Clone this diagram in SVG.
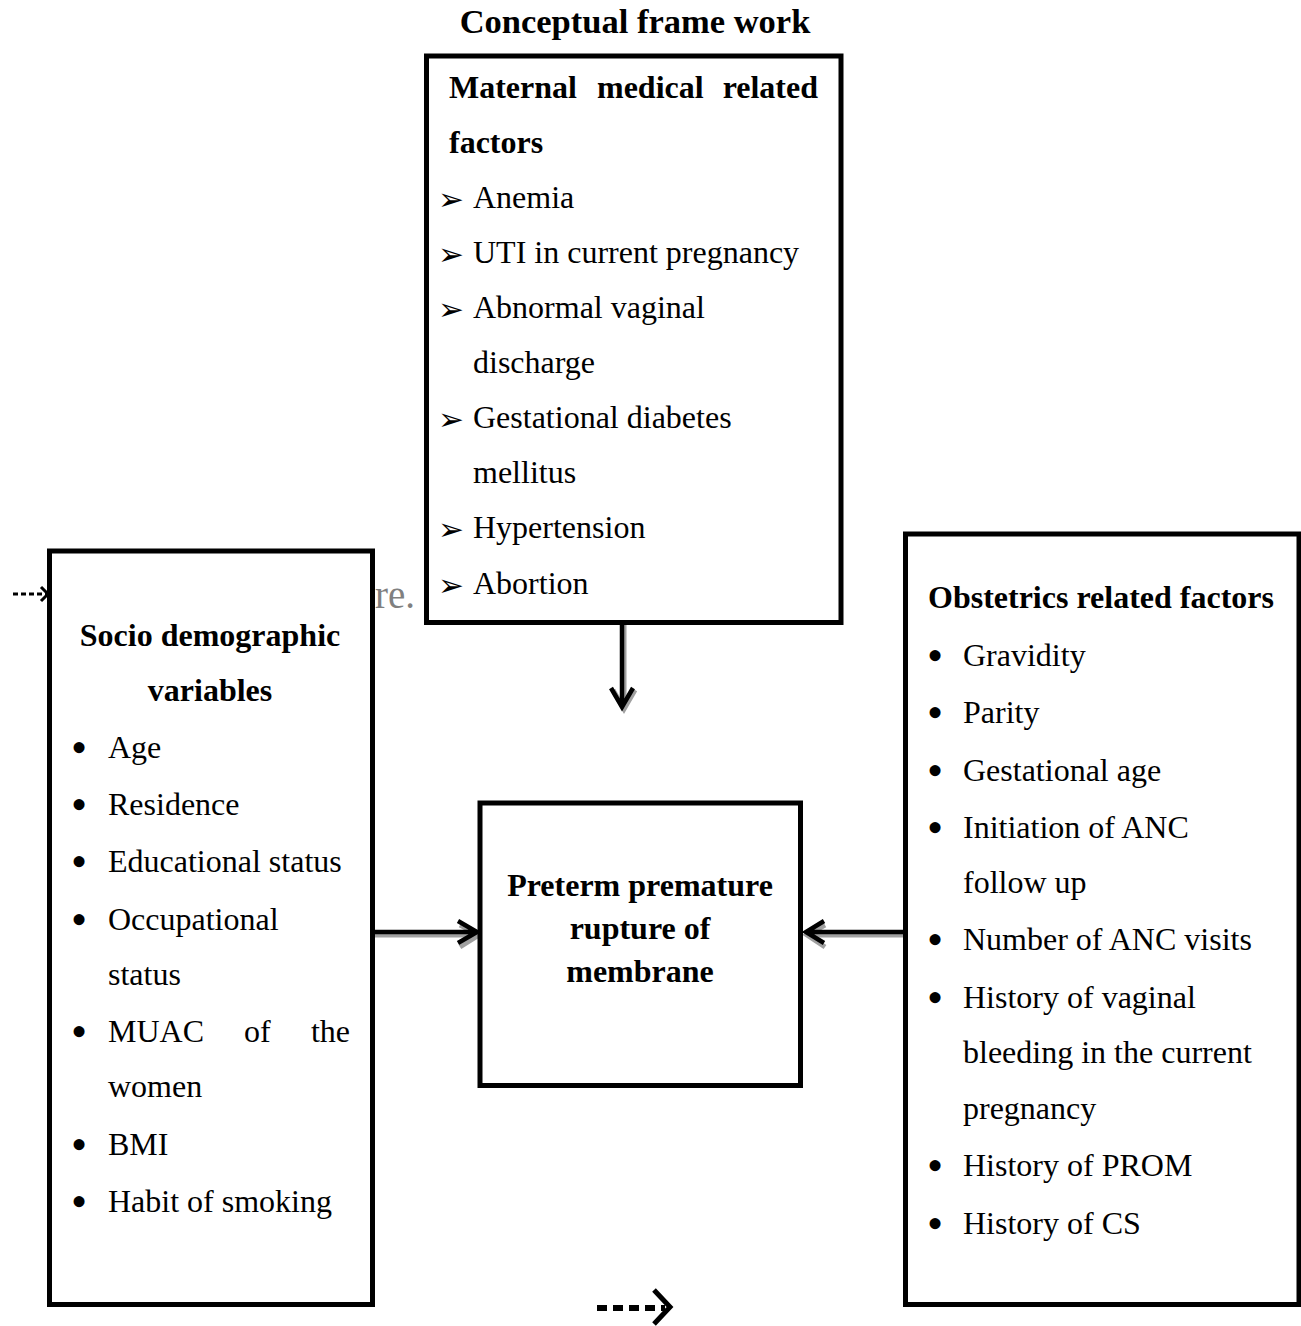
<svg xmlns="http://www.w3.org/2000/svg" width="1301" height="1326" viewBox="0 0 1301 1326">
<style>
.t{font-family:"Liberation Serif","Times New Roman",serif;font-size:32px;fill:#000}
.b{font-weight:bold}
.box{fill:#fff;stroke:#000;stroke-width:5}
.sh{fill:none;stroke:#a0a0a0;stroke-width:5}
.ln{fill:none;stroke:#000;stroke-width:4.5}
.blt{font-family:"DejaVu Sans",sans-serif;font-size:31px;fill:#000}
.dot{font-family:"Liberation Serif",serif;font-size:46px;fill:#000}
</style>
<rect width="1301" height="1326" fill="#fff"/>
<text class="t b" x="635" y="33" text-anchor="middle" style="font-size:34.5px">Conceptual frame work</text>

<g id="connectors">
  <path class="sh" d="M624 625V707M613 690L624 709L635 690"/>
  <path class="ln" d="M622 622V706M611 688L622 707L633 688"/>
  <path class="sh" d="M374 935H478M460 925L479 935L460 947"/>
  <path class="ln" d="M374 932H477M458 921L477 932L458 943"/>
  <path class="sh" d="M905 935H807M825 925L807 935L825 947"/>
  <path class="ln" d="M905 932H806M824 921L806 932L824 943"/>
  <path class="ln" d="M597 1308H665" stroke-dasharray="10 6" style="stroke-width:6"/>
  <path class="ln" d="M654 1290L670 1307L654 1324" style="stroke-width:5"/>
  <path class="ln" d="M13 594H46" stroke-dasharray="5 3" style="stroke-width:3"/>
  <path class="ln" d="M41 587L48 594L41 601" style="stroke-width:3"/>
</g>

<text x="375" y="608" style="font-family:'Liberation Serif',serif;font-size:39px;fill:#808080">re.</text>

<g id="maternal">
  <rect class="box" x="426.5" y="56" width="414.5" height="566.5"/>
  <text class="t b" x="449" y="98">Maternal</text>
  <text class="t b" x="597" y="98">medical</text>
  <text class="t b" x="818" y="98" text-anchor="end">related</text>
  <text class="t b" x="449" y="153">factors</text>
  <text class="blt" x="438" y="210">➢</text><text class="t" x="473" y="208">Anemia</text>
  <text class="blt" x="438" y="265">➢</text><text class="t" x="473" y="263">UTI in current pregnancy</text>
  <text class="blt" x="438" y="320">➢</text><text class="t" x="473" y="318">Abnormal vaginal</text>
  <text class="t" x="473" y="373">discharge</text>
  <text class="blt" x="438" y="430">➢</text><text class="t" x="473" y="428">Gestational diabetes</text>
  <text class="t" x="473" y="483">mellitus</text>
  <text class="blt" x="438" y="540">➢</text><text class="t" x="473" y="538">Hypertension</text>
  <text class="blt" x="438" y="596">➢</text><text class="t" x="473" y="594">Abortion</text>
</g>

<g id="socio">
  <rect class="box" x="49.5" y="551" width="323" height="753.5"/>
  <text class="t b" x="210" y="646" text-anchor="middle">Socio demographic</text>
  <text class="t b" x="210" y="701" text-anchor="middle">variables</text>
  <text class="dot" x="71" y="763">•</text><text class="t" x="108" y="758">Age</text>
  <text class="dot" x="71" y="820">•</text><text class="t" x="108" y="815">Residence</text>
  <text class="dot" x="71" y="877">•</text><text class="t" x="108" y="872">Educational status</text>
  <text class="dot" x="71" y="935">•</text><text class="t" x="108" y="930">Occupational</text>
  <text class="t" x="108" y="985">status</text>
  <text class="dot" x="71" y="1047">•</text><text class="t" x="108" y="1042">MUAC</text>
  <text class="t" x="244" y="1042">of</text>
  <text class="t" x="350" y="1042" text-anchor="end">the</text>
  <text class="t" x="108" y="1097">women</text>
  <text class="dot" x="71" y="1160">•</text><text class="t" x="108" y="1155">BMI</text>
  <text class="dot" x="71" y="1217">•</text><text class="t" x="108" y="1212">Habit of smoking</text>
</g>

<g id="prom">
  <rect class="box" x="480" y="803" width="320.5" height="282.5"/>
  <text class="t b" x="640" y="896" text-anchor="middle">Preterm premature</text>
  <text class="t b" x="640" y="939" text-anchor="middle">rupture of</text>
  <text class="t b" x="640" y="982" text-anchor="middle">membrane</text>
</g>

<g id="obstetrics">
  <rect class="box" x="905.5" y="534" width="393.5" height="770.5"/>
  <text class="t b" x="928" y="608">Obstetrics related factors</text>
  <text class="dot" x="927" y="671">•</text><text class="t" x="963" y="666">Gravidity</text>
  <text class="dot" x="927" y="728">•</text><text class="t" x="963" y="723">Parity</text>
  <text class="dot" x="927" y="786">•</text><text class="t" x="963" y="781">Gestational age</text>
  <text class="dot" x="927" y="843">•</text><text class="t" x="963" y="838">Initiation of ANC</text>
  <text class="t" x="963" y="893">follow up</text>
  <text class="dot" x="927" y="955">•</text><text class="t" x="963" y="950">Number of ANC visits</text>
  <text class="dot" x="927" y="1013">•</text><text class="t" x="963" y="1008">History of vaginal</text>
  <text class="t" x="963" y="1063">bleeding in the current</text>
  <text class="t" x="963" y="1119">pregnancy</text>
  <text class="dot" x="927" y="1181">•</text><text class="t" x="963" y="1176">History of PROM</text>
  <text class="dot" x="927" y="1239">•</text><text class="t" x="963" y="1234">History of CS</text>
</g>
</svg>
